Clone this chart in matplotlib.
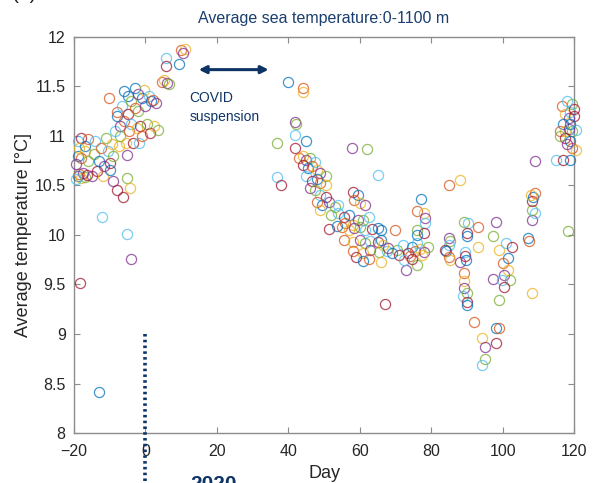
import numpy as np
import matplotlib
matplotlib.use('Agg')
import matplotlib.pyplot as plt

plt.rcParams['font.family'] = ['Liberation Sans', 'DejaVu Sans']

# profile-averaged temperatures (day relative to 2020 start, degC)
day_pre = [-19.0, -18.5, -18.0, -17.5, -17.0, -19.5, -16.5,
           -19.0, -18.0, -17.0, -19.5, -16.0,
           -19.0, -18.0, -17.0, -16.0, -18.5,
           -15.0, -14.5, -14.0, -13.5, -13.0, -12.5,
           -12.0, -11.5, -11.0, -10.5, -10.0, -10.0, -10.1,
           -9.5, -9.0, -9.0, -8.5, -8.0, -8.0, -8.0,
           -7.5, -7.0, -7.0, -6.5, -6.2, -6.0, -6.0,
           -5.5, -5.3, -5.2, -5.2, -5.0, -5.0, -4.5,
           -4.3, -4.1, -4.0, -4.0, -3.5, -3.0, -3.0,
           -2.5, -2.0, -2.0, -1.7, -1.5, -1.0, -1.0,
           -0.5, 0.0, 0.5, 1.0, 1.4, 1.5, 2.2, 2.5,
           3.0, 3.6, -12.1, -18.3, -13.1,
           4.5, 5.2, 6.0, 6.7, 5.8, 5.8, 9.5, 10.0, 11.0, 10.5]
temp_pre = [10.60, 10.62, 10.58, 10.63, 10.59, 10.57, 10.61,
            10.80, 10.78, 10.85, 10.72, 10.75,
            10.95, 10.98, 10.90, 10.97, 10.88,
            10.60, 10.82, 10.95, 10.65, 10.75, 10.88,
            10.60, 10.70, 10.98, 10.85, 10.73, 10.66, 11.38,
            10.92, 10.55, 10.80, 11.05, 10.45, 11.20, 11.24,
            10.90, 11.10, 11.00, 11.30, 10.38, 11.45, 11.15,
            10.93, 10.81, 10.58, 10.01, 11.22, 11.40, 11.05,
            10.47, 9.76, 11.35, 11.12, 10.93, 11.48, 11.28,
            11.08, 11.42, 11.25, 10.93, 11.10, 11.38, 11.00,
            11.46, 11.30, 11.12, 11.40, 11.03, 11.35, 11.36, 11.10,
            11.33, 11.06, 10.18, 9.52, 8.41,
            11.55, 11.57, 11.53, 11.52, 11.79, 11.71, 11.73, 11.87, 11.88, 11.84]

day_mid = [36.9, 36.9, 38.0, 39.9, 44.1, 44.1,
           42.0, 42.2, 42.0, 42.0, 44.9,
           43.0, 44.0, 45.0, 46.0, 47.5,
           44.0, 45.5, 46.5, 48.0, 49.0, 50.5,
           45.0, 46.5, 48.0, 49.0, 50.5,
           46.0, 47.5, 49.0, 50.5, 49.5, 48.0, 49.0, 51.5, 53.0, 54.0,
           58.0, 59.5, 58.5, 60.0, 61.5,
           52.0, 54.0, 55.5, 57.0, 56.0, 58.0, 59.5, 61.0, 62.5,
           51.5, 53.5, 55.0, 57.0, 58.5, 60.0, 61.5, 63.5, 65.0,
           55.5, 58.0, 60.0, 61.5, 63.0, 65.0, 66.0,
           58.0, 61.0, 63.0, 65.5, 67.5,
           59.0, 61.0, 62.5, 66.0,
           57.9, 62.1, 65.1, 67.0, 66.0, 70.0,
           66.5, 68.0, 70.5, 72.0, 73.5, 74.5, 75.5, 77.0, 78.0, 79.0, 76.0, 71.0, 69.0, 74.0, 77.5,
           73.0, 76.0, 72.5, 74.5,
           77.1, 76.0, 78.0, 78.3, 76.0, 78.2, 78.0, 76.0]
temp_mid = [10.93, 10.59, 10.50, 11.54, 11.48, 11.44,
            11.14, 11.12, 11.01, 10.88, 10.95,
            10.78, 10.80, 10.76, 10.78, 10.74,
            10.71, 10.68, 10.70, 10.66, 10.63, 10.60,
            10.60, 10.55, 10.57, 10.52, 10.50,
            10.47, 10.45, 10.40, 10.38, 10.30, 10.33, 10.25, 10.33, 10.28, 10.30,
            10.43, 10.40, 10.35, 10.32, 10.30,
            10.20, 10.22, 10.18, 10.20, 10.12, 10.10, 10.15, 10.15, 10.18,
            10.06, 10.09, 10.08, 10.05, 10.07, 10.08, 10.05, 10.06, 10.07,
            9.95, 9.93, 9.95, 9.92, 9.94, 9.93, 9.95,
            9.84, 9.82, 9.85, 9.83, 9.84,
            9.78, 9.74, 9.76, 9.73,
            10.88, 10.87, 10.61, 9.30, 10.05, 10.05,
            9.90, 9.87, 9.85, 9.90, 9.82, 9.88, 9.84, 9.86, 9.83, 9.88, 9.92, 9.80, 9.82, 9.79, 9.80,
            9.65, 9.70, 9.75, 9.76,
            10.36, 10.24, 10.22, 10.17, 10.05, 10.12, 10.02, 10.00]

day_post = [85.0, 88.0, 85.0, 85.3, 85.0, 84.0, 84.2, 85.0, 85.2, 88.0,
            89.2, 90.2, 90.1, 90.0, 93.2, 93.0, 98.1, 97.2,
            89.5, 89.6, 89.8, 89.2, 89.2, 89.3, 90.0, 89.0, 90.0, 90.0, 91.9,
            94.1, 95.0, 95.0, 94.1, 98.1, 98.1, 99.0,
            99.0, 97.2, 99.0,
            101.0, 102.5, 101.5, 100.0, 101.5, 100.5, 102.0, 99.8, 100.5,
            107.2, 107.3, 108.1, 108.1, 108.1, 109.0,
            108.1, 108.5, 109.0, 108.0,
            109.0, 118.2, 115.0, 117.0, 119.0,
            116.5, 117.5, 118.5, 119.5, 119.0, 120.0,
            117.0, 116.0, 117.5, 118.5, 119.5, 120.5,
            117.5, 119.0, 119.5, 120.5, 118.0,
            116.0, 118.0, 120.0, 119.0]
temp_post = [10.50, 10.56, 9.97, 9.94, 9.90, 9.85, 9.84, 9.78, 9.75, 9.73,
             10.13, 10.12, 10.02, 9.99, 10.08, 9.88, 10.13, 9.99,
             9.83, 9.79, 9.75, 9.62, 9.54, 9.46, 9.41, 9.38, 9.32, 9.29, 9.12,
             8.96, 8.87, 8.75, 8.69, 8.91, 9.06, 9.06,
             9.85, 9.56, 9.34,
             9.92, 9.88, 9.77, 9.72, 9.65, 9.60, 9.55, 9.55, 9.47,
             9.97, 9.94, 9.41, 10.15, 10.25, 10.22,
             10.34, 10.38, 10.42, 10.40,
             10.75, 10.04, 10.76, 10.76, 10.76,
             11.30, 11.22, 11.18, 11.32, 11.24, 11.27,
             11.12, 11.05, 11.05, 11.07, 11.05, 11.06,
             10.98, 10.95, 10.88, 10.86, 10.92,
             11.00, 11.35, 11.20, 11.12]

day = np.array(day_pre + day_mid + day_post)
temp = np.array(temp_pre + temp_mid + temp_post)

x_ticks = [-20, 0, 20, 40, 60, 80, 100, 120]
y_ticks = [8, 8.5, 9, 9.5, 10, 10.5, 11, 11.5, 12]
y_labels = ['8', '8.5', '9', '9.5', '10', '10.5', '11', '11.5', '12']

covid_start, covid_end, covid_level = 14.9, 34.5, 11.67
year_mark_day, year_mark_top = 0, 9.0

# MATLAB default line colours
matlab_colors = ['#0072BD', '#D95319', '#EDB120', '#7E2F8E', '#77AC30', '#4DBEEE', '#A2142F']
navy = '#0E3466'
gray = '#8C8C8C'

fig = plt.figure(figsize=(5.97, 4.83), dpi=100)
ax = fig.add_axes([0.124, 0.1035, 0.8375, 0.82])

for i in range(len(day)):
    ax.plot(day[i], temp[i], 'o', mfc='none', mec=matplotlib.colors.to_rgba(matlab_colors[i % 7], 0.75),
            ms=7.3, mew=0.9, clip_on=False, zorder=3)

# dotted marker for start of 2020
ax.plot([year_mark_day, year_mark_day], [year_mark_top, 6.0], color=navy, lw=2.6,
        linestyle=(0, (0.7, 0.9)), clip_on=False, zorder=4)

ax.annotate('', xy=(covid_start, covid_level), xytext=(covid_end, covid_level),
            arrowprops=dict(arrowstyle='<|-|>', color=navy, lw=2.2, mutation_scale=11,
                            shrinkA=0, shrinkB=0))
ax.text(12.3, 11.29, 'COVID\nsuspension', color=navy, fontsize=10, ha='left', va='center',
        linespacing=1.5)

ax.set_xlim(-20, 120)
ax.set_ylim(8, 12)
ax.set_xticks(x_ticks)
ax.set_yticks(y_ticks)
ax.set_yticklabels(y_labels)
ax.tick_params(direction='in', length=4, width=0.8, color=gray, labelcolor='#262626',
               labelsize=11.5, top=True, right=True)
ax.tick_params(axis='x', pad=8)
ax.tick_params(axis='y', pad=6)
for s in ax.spines.values():
    s.set_color(gray)
    s.set_linewidth(1.0)

ax.set_xlabel('Day', fontsize=13, color='#262626', labelpad=4)
ax.set_ylabel('Average temperature [°C]', fontsize=13, color='#262626', labelpad=1.5)
ax.set_title('Average sea temperature:0-1100 m', fontsize=11.5, color='#1A3E6E', pad=10)

fig.text(0.357, 0.016, '2020', fontsize=15, fontweight='bold', color=navy, ha='center', va='top')
fig.text(0.02, 0.994, '(a)', fontsize=15, color='#222222', ha='left', va='bottom')

fig.savefig('out.png', dpi=100)
